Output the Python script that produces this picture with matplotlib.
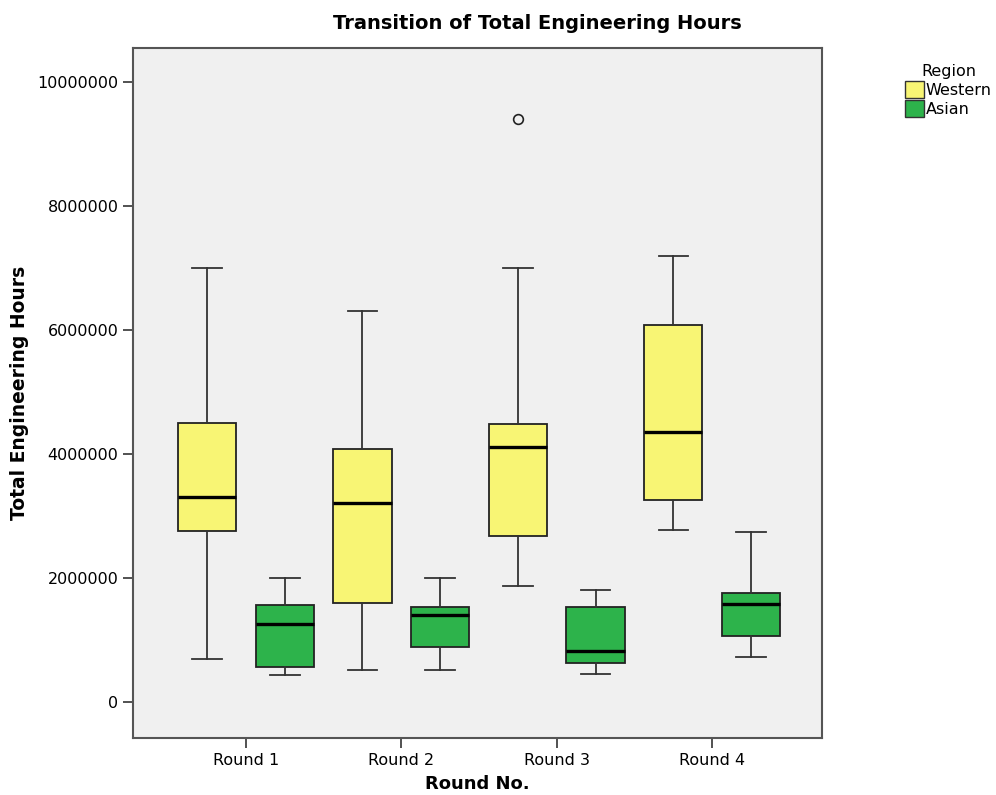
import matplotlib
matplotlib.use("Agg")
import matplotlib.pyplot as plt
from matplotlib.patches import Patch

rounds = ["Round 1", "Round 2", "Round 3", "Round 4"]
regions = ["Western", "Asian"]

# box stats (hours)
west_low = [700000, 510000, 1870000, 2770000]
west_q1 = [2760000, 1600000, 2670000, 3260000]
west_med = [3300000, 3210000, 4110000, 4350000]
west_q3 = [4500000, 4080000, 4480000, 6080000]
west_high = [7000000, 6300000, 7000000, 7200000]
west_fliers = [[], [], [9400000], []]

asia_low = [430000, 510000, 460000, 730000]
asia_q1 = [570000, 880000, 630000, 1060000]
asia_med = [1260000, 1410000, 820000, 1580000]
asia_q3 = [1560000, 1540000, 1530000, 1760000]
asia_high = [2000000, 2000000, 1810000, 2750000]
asia_fliers = [[], [], [], []]

yticks = [0, 2000000, 4000000, 6000000, 8000000, 10000000]
colors = ["#F8F574", "#2DB34B"]


def make_stats(low, q1, med, q3, high, fliers):
    return [dict(whislo=a, q1=b, med=c, q3=d, whishi=e, fliers=f)
            for a, b, c, d, e, f in zip(low, q1, med, q3, high, fliers)]


groups = [
    make_stats(west_low, west_q1, west_med, west_q3, west_high, west_fliers),
    make_stats(asia_low, asia_q1, asia_med, asia_q3, asia_high, asia_fliers),
]

fig = plt.figure(figsize=(9.96, 7.95), dpi=100)
ax = fig.add_axes([0.1335, 0.0717, 0.6918, 0.868])
ax.set_facecolor("#F0F0F0")

offsets = [-0.25, 0.25]
for stats, off, col in zip(groups, offsets, colors):
    pos = [i + off for i in range(len(rounds))]
    ax.bxp(stats, positions=pos, widths=0.375, capwidths=0.19,
           patch_artist=True, manage_ticks=False,
           boxprops=dict(facecolor=col, edgecolor="#222222", linewidth=1.3),
           medianprops=dict(color="black", linewidth=2.4),
           whiskerprops=dict(color="#333333", linewidth=1.3),
           capprops=dict(color="#333333", linewidth=1.3),
           flierprops=dict(marker="o", markerfacecolor="none",
                           markeredgecolor="#222222", markersize=7,
                           markeredgewidth=1.2))

ax.set_xlim(-0.727, 3.707)
ax.set_ylim(-580000, 10548000)
ax.set_xticks(range(len(rounds)))
ax.set_xticklabels(rounds)
ax.set_yticks(yticks)
ax.set_yticklabels([str(v) for v in yticks])
ax.tick_params(direction="out", length=7, width=1.2, colors="#333333",
               labelcolor="black", labelsize=11.5)

for s in ax.spines.values():
    s.set_color("#555555")
    s.set_linewidth(1.5)

ax.set_xlabel("Round No.", fontsize=13, fontweight="bold", labelpad=5)
ax.set_ylabel("Total Engineering Hours", fontsize=13.5, fontweight="bold", labelpad=6)
fig.text(0.54, 0.970, "Transition of Total Engineering Hours",
         ha="center", va="center", fontsize=14, fontweight="bold")

handles = [Patch(facecolor=c, edgecolor="#333333", label=r) for c, r in zip(colors, regions)]
leg = fig.legend(handles=handles, title="Region", loc="upper left",
                 bbox_to_anchor=(0.901, 0.93), frameon=False, fontsize=11.5,
                 title_fontsize=11.5, handlelength=1.15, handleheight=1.3,
                 handletextpad=0.12, labelspacing=0.12, borderpad=0.0)

fig.savefig("out.png", dpi=100)
